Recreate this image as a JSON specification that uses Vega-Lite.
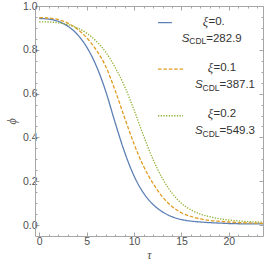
{
  "$schema": "https://vega.github.io/schema/vega-lite/v6.json",
  "width": 228,
  "height": 230,
  "autosize": {"type": "none"},
  "padding": {"left": 35, "top": 6, "right": 3, "bottom": 36},
  "config": {
    "view": {"stroke": null},
    "axis": {
      "grid": false,
      "labelFlush": false,
      "domainColor": "#a6a6a6",
      "tickColor": "#a6a6a6",
      "domainWidth": 1,
      "tickWidth": 1,
      "labelColor": "#505050",
      "labelFont": "Liberation Sans",
      "labelFontSize": 10.5,
      "titleColor": "#505050",
      "titleFont": "Liberation Serif",
      "titleFontStyle": "italic",
      "titleFontWeight": "normal",
      "titleFontSize": 12
    }
  },
  "datasets": {
    "curves": [
      {"series": "ξ=0.", "tau": 0, "phi": 0.943},
      {"series": "ξ=0.", "tau": 1, "phi": 0.94},
      {"series": "ξ=0.", "tau": 2, "phi": 0.93},
      {"series": "ξ=0.", "tau": 3, "phi": 0.908},
      {"series": "ξ=0.", "tau": 4, "phi": 0.871},
      {"series": "ξ=0.", "tau": 5, "phi": 0.813},
      {"series": "ξ=0.", "tau": 6, "phi": 0.728},
      {"series": "ξ=0.", "tau": 7, "phi": 0.612},
      {"series": "ξ=0.", "tau": 8, "phi": 0.468},
      {"series": "ξ=0.", "tau": 9, "phi": 0.333},
      {"series": "ξ=0.", "tau": 10, "phi": 0.224},
      {"series": "ξ=0.", "tau": 11, "phi": 0.146},
      {"series": "ξ=0.", "tau": 12, "phi": 0.094},
      {"series": "ξ=0.", "tau": 13, "phi": 0.06},
      {"series": "ξ=0.", "tau": 14, "phi": 0.038},
      {"series": "ξ=0.", "tau": 15, "phi": 0.025},
      {"series": "ξ=0.", "tau": 16, "phi": 0.018},
      {"series": "ξ=0.", "tau": 17, "phi": 0.014},
      {"series": "ξ=0.", "tau": 18, "phi": 0.011},
      {"series": "ξ=0.", "tau": 19, "phi": 0.009},
      {"series": "ξ=0.", "tau": 20, "phi": 0.007},
      {"series": "ξ=0.", "tau": 21, "phi": 0.006},
      {"series": "ξ=0.", "tau": 22, "phi": 0.005},
      {"series": "ξ=0.", "tau": 23.6, "phi": 0.005},
      {"series": "ξ=0.1", "tau": 0, "phi": 0.947},
      {"series": "ξ=0.1", "tau": 1, "phi": 0.945},
      {"series": "ξ=0.1", "tau": 2, "phi": 0.938},
      {"series": "ξ=0.1", "tau": 3, "phi": 0.922},
      {"series": "ξ=0.1", "tau": 4, "phi": 0.895},
      {"series": "ξ=0.1", "tau": 5, "phi": 0.855},
      {"series": "ξ=0.1", "tau": 6, "phi": 0.8},
      {"series": "ξ=0.1", "tau": 7, "phi": 0.725},
      {"series": "ξ=0.1", "tau": 8, "phi": 0.615},
      {"series": "ξ=0.1", "tau": 9, "phi": 0.49},
      {"series": "ξ=0.1", "tau": 10, "phi": 0.37},
      {"series": "ξ=0.1", "tau": 11, "phi": 0.268},
      {"series": "ξ=0.1", "tau": 12, "phi": 0.19},
      {"series": "ξ=0.1", "tau": 13, "phi": 0.128},
      {"series": "ξ=0.1", "tau": 14, "phi": 0.085},
      {"series": "ξ=0.1", "tau": 15, "phi": 0.056},
      {"series": "ξ=0.1", "tau": 16, "phi": 0.039},
      {"series": "ξ=0.1", "tau": 17, "phi": 0.028},
      {"series": "ξ=0.1", "tau": 18, "phi": 0.021},
      {"series": "ξ=0.1", "tau": 19, "phi": 0.017},
      {"series": "ξ=0.1", "tau": 20, "phi": 0.014},
      {"series": "ξ=0.1", "tau": 21, "phi": 0.011},
      {"series": "ξ=0.1", "tau": 22, "phi": 0.01},
      {"series": "ξ=0.1", "tau": 23.6, "phi": 0.008},
      {"series": "ξ=0.2", "tau": 0, "phi": 0.928},
      {"series": "ξ=0.2", "tau": 1, "phi": 0.927},
      {"series": "ξ=0.2", "tau": 2, "phi": 0.923},
      {"series": "ξ=0.2", "tau": 3, "phi": 0.915},
      {"series": "ξ=0.2", "tau": 4, "phi": 0.9},
      {"series": "ξ=0.2", "tau": 5, "phi": 0.876},
      {"series": "ξ=0.2", "tau": 6, "phi": 0.84},
      {"series": "ξ=0.2", "tau": 7, "phi": 0.79},
      {"series": "ξ=0.2", "tau": 8, "phi": 0.72},
      {"series": "ξ=0.2", "tau": 9, "phi": 0.633},
      {"series": "ξ=0.2", "tau": 10, "phi": 0.525},
      {"series": "ξ=0.2", "tau": 11, "phi": 0.408},
      {"series": "ξ=0.2", "tau": 12, "phi": 0.3},
      {"series": "ξ=0.2", "tau": 13, "phi": 0.212},
      {"series": "ξ=0.2", "tau": 14, "phi": 0.146},
      {"series": "ξ=0.2", "tau": 15, "phi": 0.099},
      {"series": "ξ=0.2", "tau": 16, "phi": 0.069},
      {"series": "ξ=0.2", "tau": 17, "phi": 0.05},
      {"series": "ξ=0.2", "tau": 18, "phi": 0.038},
      {"series": "ξ=0.2", "tau": 19, "phi": 0.029},
      {"series": "ξ=0.2", "tau": 20, "phi": 0.023},
      {"series": "ξ=0.2", "tau": 21, "phi": 0.019},
      {"series": "ξ=0.2", "tau": 22, "phi": 0.016},
      {"series": "ξ=0.2", "tau": 23.6, "phi": 0.013}
    ],
    "legend": [
      {"series": "ξ=0.", "xi": "=0.", "S": "=282.9"},
      {"series": "ξ=0.1", "xi": "=0.1", "S": "=387.1"},
      {"series": "ξ=0.2", "xi": "=0.2", "S": "=549.3"}
    ]
  },
  "layer": [
    {
      "data": {"name": "curves"},
      "mark": {"type": "line", "strokeWidth": 1.3, "interpolate": "monotone"},
      "encoding": {
        "x": {"field": "tau", "type": "quantitative", "scale": {"domain": [-0.45, 23.6], "nice": false, "zero": false},
          "axis": {"orient": "bottom", "values": [0, 5, 10, 15, 20], "tickSize": -4, "labelPadding": 4, "title": "τ", "titlePadding": 3}},
        "y": {"field": "phi", "type": "quantitative", "scale": {"domain": [-0.05, 1.0], "nice": false, "zero": false},
          "axis": {"orient": "left", "values": [0, 0.2, 0.4, 0.6, 0.8, 1.0], "format": ".1f", "tickSize": -4, "labelPadding": 2, "title": "ϕ", "titlePadding": 4}},
        "color": {"field": "series", "type": "nominal", "scale": {"domain": ["ξ=0.", "ξ=0.1", "ξ=0.2"], "range": ["#5e81b5", "#e19c24", "#8fb032"]}, "legend": null},
        "strokeDash": {"field": "series", "type": "nominal", "scale": {"domain": ["ξ=0.", "ξ=0.1", "ξ=0.2"], "range": [[1, 0], [3.6, 1.8], [1.3, 1.4]]}, "legend": null}
      }
    },
    {
      "data": {"name": "curves"},
      "mark": {"type": "point", "opacity": 0},
      "encoding": {
        "x": {"field": "tau", "type": "quantitative",
          "axis": {"orient": "bottom", "values": [1, 2, 3, 4, 6, 7, 8, 9, 11, 12, 13, 14, 16, 17, 18, 19, 21, 22, 23], "tickSize": -2, "labels": false, "domain": false, "title": null}},
        "y": {"field": "phi", "type": "quantitative",
          "axis": {"orient": "left", "values": [0.05, 0.1, 0.15, 0.25, 0.3, 0.35, 0.45, 0.5, 0.55, 0.65, 0.7, 0.75, 0.85, 0.9, 0.95], "tickSize": -2, "labels": false, "domain": false, "title": null}}
      }
    },
    {
      "data": {"name": "curves"},
      "mark": {"type": "point", "opacity": 0},
      "encoding": {
        "x": {"field": "tau", "type": "quantitative",
          "axis": {"orient": "top", "values": [0, 5, 10, 15, 20], "tickSize": -4, "labels": false, "title": null}},
        "y": {"field": "phi", "type": "quantitative",
          "axis": {"orient": "right", "values": [0, 0.2, 0.4, 0.6, 0.8, 1.0], "tickSize": -4, "labels": false, "title": null}}
      }
    },
    {
      "data": {"name": "curves"},
      "mark": {"type": "point", "opacity": 0},
      "encoding": {
        "x": {"field": "tau", "type": "quantitative",
          "axis": {"orient": "top", "values": [1, 2, 3, 4, 6, 7, 8, 9, 11, 12, 13, 14, 16, 17, 18, 19, 21, 22, 23], "tickSize": -2, "labels": false, "domain": false, "title": null}},
        "y": {"field": "phi", "type": "quantitative",
          "axis": {"orient": "right", "values": [0.05, 0.1, 0.15, 0.25, 0.3, 0.35, 0.45, 0.5, 0.55, 0.65, 0.7, 0.75, 0.85, 0.9, 0.95], "tickSize": -2, "labels": false, "domain": false, "title": null}}
      }
    },
    {
      "data": {"name": "legend"},
      "transform": [{"filter": "datum.series === 'ξ=0.'"}],
      "layer": [
        {"mark": {"type": "rule", "strokeWidth": 1.3},
          "encoding": {"x": {"datum": 12.52, "axis": null}, "x2": {"datum": 13.99}, "y": {"datum": 0.924, "axis": null},
            "color": {"field": "series", "type": "nominal", "legend": null}, "strokeDash": {"field": "series", "type": "nominal", "legend": null}}},
        {"mark": {"type": "text", "text": "ξ", "align": "right", "baseline": "middle", "font": "Liberation Serif", "fontStyle": "italic", "fontSize": 12.5, "color": "#333", "dx": -0.5},
          "encoding": {"x": {"datum": 17.85, "axis": null}, "y": {"datum": 0.927, "axis": null}}},
        {"mark": {"type": "text", "align": "left", "baseline": "middle", "font": "Liberation Sans", "fontSize": 11.5, "color": "#333"},
          "encoding": {"x": {"datum": 17.85, "axis": null}, "y": {"datum": 0.927, "axis": null}, "text": {"field": "xi"}}},
        {"mark": {"type": "text", "text": "S", "align": "left", "baseline": "middle", "font": "Liberation Sans", "fontStyle": "italic", "fontSize": 11.5, "color": "#333", "dy": 17},
          "encoding": {"x": {"datum": 15.03, "axis": null}, "y": {"datum": 0.927, "axis": null}}},
        {"mark": {"type": "text", "text": "CDL", "align": "left", "baseline": "middle", "font": "Liberation Sans", "fontSize": 8.5, "color": "#333", "dx": 7.5, "dy": 19.5},
          "encoding": {"x": {"datum": 15.03, "axis": null}, "y": {"datum": 0.927, "axis": null}}},
        {"mark": {"type": "text", "align": "left", "baseline": "middle", "font": "Liberation Sans", "fontSize": 11.5, "color": "#333", "dx": 24.5, "dy": 17},
          "encoding": {"x": {"datum": 15.03, "axis": null}, "y": {"datum": 0.927, "axis": null}, "text": {"field": "S"}}}
      ]
    },
    {
      "data": {"name": "legend"},
      "transform": [{"filter": "datum.series === 'ξ=0.1'"}],
      "layer": [
        {"mark": {"type": "rule", "strokeWidth": 1.3},
          "encoding": {"x": {"datum": 12.52, "axis": null}, "x2": {"datum": 15.17}, "y": {"datum": 0.712, "axis": null},
            "color": {"field": "series", "type": "nominal", "legend": null}, "strokeDash": {"field": "series", "type": "nominal", "legend": null}}},
        {"mark": {"type": "text", "text": "ξ", "align": "right", "baseline": "middle", "font": "Liberation Serif", "fontStyle": "italic", "fontSize": 12.5, "color": "#333", "dx": -0.5},
          "encoding": {"x": {"datum": 18.38, "axis": null}, "y": {"datum": 0.715, "axis": null}}},
        {"mark": {"type": "text", "align": "left", "baseline": "middle", "font": "Liberation Sans", "fontSize": 11.5, "color": "#333"},
          "encoding": {"x": {"datum": 18.38, "axis": null}, "y": {"datum": 0.715, "axis": null}, "text": {"field": "xi"}}},
        {"mark": {"type": "text", "text": "S", "align": "left", "baseline": "middle", "font": "Liberation Sans", "fontStyle": "italic", "fontSize": 11.5, "color": "#333", "dy": 17},
          "encoding": {"x": {"datum": 16.43, "axis": null}, "y": {"datum": 0.715, "axis": null}}},
        {"mark": {"type": "text", "text": "CDL", "align": "left", "baseline": "middle", "font": "Liberation Sans", "fontSize": 8.5, "color": "#333", "dx": 7.5, "dy": 19.5},
          "encoding": {"x": {"datum": 16.43, "axis": null}, "y": {"datum": 0.715, "axis": null}}},
        {"mark": {"type": "text", "align": "left", "baseline": "middle", "font": "Liberation Sans", "fontSize": 11.5, "color": "#333", "dx": 24.5, "dy": 17},
          "encoding": {"x": {"datum": 16.43, "axis": null}, "y": {"datum": 0.715, "axis": null}, "text": {"field": "S"}}}
      ]
    },
    {
      "data": {"name": "legend"},
      "transform": [{"filter": "datum.series === 'ξ=0.2'"}],
      "layer": [
        {"mark": {"type": "rule", "strokeWidth": 1.3},
          "encoding": {"x": {"datum": 12.52, "axis": null}, "x2": {"datum": 15.17}, "y": {"datum": 0.499, "axis": null},
            "color": {"field": "series", "type": "nominal", "legend": null}, "strokeDash": {"field": "series", "type": "nominal", "legend": null}}},
        {"mark": {"type": "text", "text": "ξ", "align": "right", "baseline": "middle", "font": "Liberation Serif", "fontStyle": "italic", "fontSize": 12.5, "color": "#333", "dx": -0.5},
          "encoding": {"x": {"datum": 18.38, "axis": null}, "y": {"datum": 0.506, "axis": null}}},
        {"mark": {"type": "text", "align": "left", "baseline": "middle", "font": "Liberation Sans", "fontSize": 11.5, "color": "#333"},
          "encoding": {"x": {"datum": 18.38, "axis": null}, "y": {"datum": 0.506, "axis": null}, "text": {"field": "xi"}}},
        {"mark": {"type": "text", "text": "S", "align": "left", "baseline": "middle", "font": "Liberation Sans", "fontStyle": "italic", "fontSize": 11.5, "color": "#333", "dy": 17},
          "encoding": {"x": {"datum": 16.43, "axis": null}, "y": {"datum": 0.506, "axis": null}}},
        {"mark": {"type": "text", "text": "CDL", "align": "left", "baseline": "middle", "font": "Liberation Sans", "fontSize": 8.5, "color": "#333", "dx": 7.5, "dy": 19.5},
          "encoding": {"x": {"datum": 16.43, "axis": null}, "y": {"datum": 0.506, "axis": null}}},
        {"mark": {"type": "text", "align": "left", "baseline": "middle", "font": "Liberation Sans", "fontSize": 11.5, "color": "#333", "dx": 24.5, "dy": 17},
          "encoding": {"x": {"datum": 16.43, "axis": null}, "y": {"datum": 0.506, "axis": null}, "text": {"field": "S"}}}
      ]
    }
  ],
  "resolve": {"axis": {"x": "independent", "y": "independent"}}
}
